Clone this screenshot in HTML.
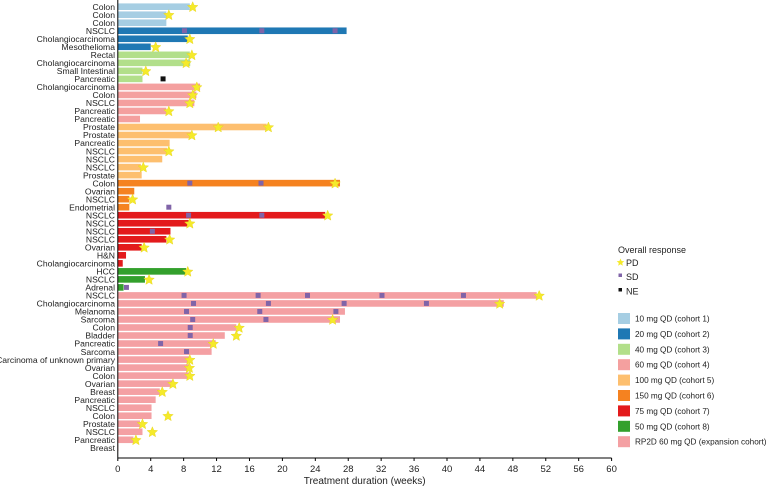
<!DOCTYPE html>
<html><head><meta charset="utf-8"><style>
body{margin:0;background:#fff}
svg{display:block;font-family:"Liberation Sans",Arial,sans-serif}
</style></head><body>
<svg id="chart" width="769" height="487" viewBox="0 0 769 487" xmlns="http://www.w3.org/2000/svg"></svg>
<script>
const tumors=["Colon","Colon","Colon","NSCLC","Cholangiocarcinoma","Mesothelioma","Rectal","Cholangiocarcinoma","Small Intestinal","Pancreatic","Cholangiocarcinoma","Colon","NSCLC","Pancreatic","Pancreatic","Prostate","Prostate","Pancreatic","NSCLC","NSCLC","NSCLC","Prostate","Colon","Ovarian","NSCLC","Endometrial","NSCLC","NSCLC","NSCLC","NSCLC","Ovarian","H&N","Cholangiocarcinoma","HCC","NSCLC","Adrenal","NSCLC","Cholangiocarcinoma","Melanoma","Sarcoma","Colon","Bladder","Pancreatic","Sarcoma","Carcinoma of unknown primary","Ovarian","Colon","Ovarian","Breast","Pancreatic","NSCLC","Colon","Prostate","NSCLC","Pancreatic","Breast"];
const cohorts=[1,1,1,2,2,2,3,3,3,3,4,4,4,4,4,5,5,5,5,5,5,5,6,6,6,6,7,7,7,7,7,7,7,8,8,8,9,9,9,9,9,9,9,9,9,9,9,9,9,9,9,9,9,9,9,9];
const durations=[8.75,5.9,5.9,27.8,8.5,4.0,8.75,8.8,3.0,3.0,10.0,9.55,9.3,5.9,2.7,18.1,9.0,6.3,6.0,5.4,2.8,2.9,27.0,2.0,1.4,1.4,25.2,8.6,6.4,5.9,2.9,1.0,0.6,8.3,3.3,0.7,50.9,46.9,27.6,27.0,14.4,13.0,11.9,11.4,8.7,8.6,8.6,6.7,5.1,4.6,4.1,4.1,2.7,3.0,1.9,0.05];
const pdRow=[0,1,4,5,6,7,8,10,11,12,13,15,15,16,18,20,22,24,26,27,29,30,33,34,36,37,39,40,41,42,44,45,46,47,48,51,52,53,54];
const pdWeek=[9.1,6.2,8.75,4.6,9.0,8.3,3.4,9.6,9.1,8.75,6.2,12.2,18.3,9.0,6.2,3.1,26.4,1.8,25.5,8.75,6.3,3.2,8.5,3.8,51.2,46.4,26.1,14.75,14.4,11.6,8.75,8.7,8.75,6.7,5.4,6.1,3.0,4.2,2.2];
const sdRow=[3,3,3,22,22,25,26,26,28,35,36,36,36,36,36,37,37,37,37,38,38,38,39,39,40,41,42,43];
const sdWeek=[8.1,17.5,26.4,8.75,17.4,6.2,8.6,17.5,4.2,1.05,8.05,17.05,23.05,32.1,42.0,9.2,18.3,27.5,37.5,8.35,17.25,26.5,9.1,18.0,8.8,8.8,5.2,8.35];
const neRow=[9];
const neWeek=[5.5];
const xTicks=[0,4,8,12,16,20,24,28,32,36,40,44,48,52,56,60];
const cohortLabels=["10 mg QD (cohort 1)","20 mg QD (cohort 2)","40 mg QD (cohort 3)","60 mg QD (cohort 4)","100 mg QD (cohort 5)","150 mg QD (cohort 6)","75 mg QD (cohort 7)","50 mg QD (cohort 8)","RP2D 60 mg QD (expansion cohort)"];
const cohortColors=["#a6cee3","#1f78b4","#b2df8a","#f4a09f","#fdbf6f","#f58220","#e31a1c","#33a02c","#f4a0a3"];

const svg=document.getElementById('chart');
const NS="http://www.w3.org/2000/svg";
const X0=117.8,XS=8.23,Y0=6.7,YS=8.02,AXY=458;
const xs=w=>X0+w*XS, ys=i=>Y0+i*YS;
function mk(t,a){const e=document.createElementNS(NS,t);for(const k in a)e.setAttribute(k,a[k]);svg.appendChild(e);return e;}
function starPts(cx,cy,R){const r=R*0.45;let p=[];for(let k=0;k<10;k++){const ang=-Math.PI/2+k*Math.PI/5;const rr=k%2?r:R;p.push((cx+rr*Math.cos(ang)).toFixed(2)+","+(cy+rr*Math.sin(ang)).toFixed(2));}return p.join(" ");}

durations.forEach((d,i)=>{
  const b=mk('rect',{x:X0,y:ys(i)-3.3,width:Math.max(0.6,xs(d)-X0),height:6.6,fill:cohortColors[cohorts[i]-1]});
  
  
  const t=mk('text',{x:115,y:ys(i)+3.2,'text-anchor':'end','font-size':8.6,fill:'#222'});
  t.textContent=tumors[i];
  
  
});
sdRow.forEach((r,k)=>{
  const s=mk('rect',{x:xs(sdWeek[k])-2.5,y:ys(r)-2.5,width:5,height:5,fill:'#8064a8'});
  
  
});
neRow.forEach((r,k)=>{
  const s=mk('rect',{x:xs(neWeek[k])-2.5,y:ys(r)-2.5,width:5,height:5,fill:'#111'});
  
  
});
pdRow.forEach((r,k)=>{
  const s=mk('polygon',{points:starPts(xs(pdWeek[k]),ys(r)+0.5,5.5),fill:'#f5ea2a',stroke:'#e6d21a','stroke-width':0.4});
  
  
});
let a=mk('line',{x1:X0,y1:0,x2:X0,y2:AXY,stroke:'#000','stroke-width':1});


a=mk('line',{x1:X0,y1:AXY,x2:xs(60),y2:AXY,stroke:'#000','stroke-width':1});


xTicks.forEach(v=>{
  const tk=mk('line',{x1:xs(v),y1:AXY,x2:xs(v),y2:AXY+3,stroke:'#000','stroke-width':1});
  
  
  const tl=mk('text',{x:xs(v),y:AXY+14,'text-anchor':'middle','font-size':9.5,fill:'#222'});
  tl.textContent=v;
  
  
});
let tt=mk('text',{x:(X0+xs(60))/2,y:484,'text-anchor':'middle','font-size':10,fill:'#222'});
tt.textContent='Treatment duration (weeks)';


tt=mk('text',{x:618,y:253,'font-size':9,fill:'#222'});
tt.textContent='Overall response';


let lp=mk('polygon',{points:starPts(620.5,262.5,4),fill:'#f5ea2a'});


lp=mk('rect',{x:618.5,y:273.5,width:3.5,height:3.5,fill:'#8064a8'});


lp=mk('rect',{x:618.5,y:288,width:3.5,height:3.5,fill:'#111'});


[['PD',266],['SD',280],['NE',294.5]].forEach(([l,y])=>{
  const e=mk('text',{x:626,y:y,'font-size':9,fill:'#222'});
  e.textContent=l;
  
  
});
cohortLabels.forEach((l,i)=>{
  const y=318.5+i*15.4;
  const r=mk('rect',{x:618,y:y-5.5,width:12,height:11,fill:cohortColors[i]});
  
  
  const e=mk('text',{x:635,y:y+3,'font-size':8.2,fill:'#222'});
  e.textContent=l;
  
  
});
</script>
</body></html>
